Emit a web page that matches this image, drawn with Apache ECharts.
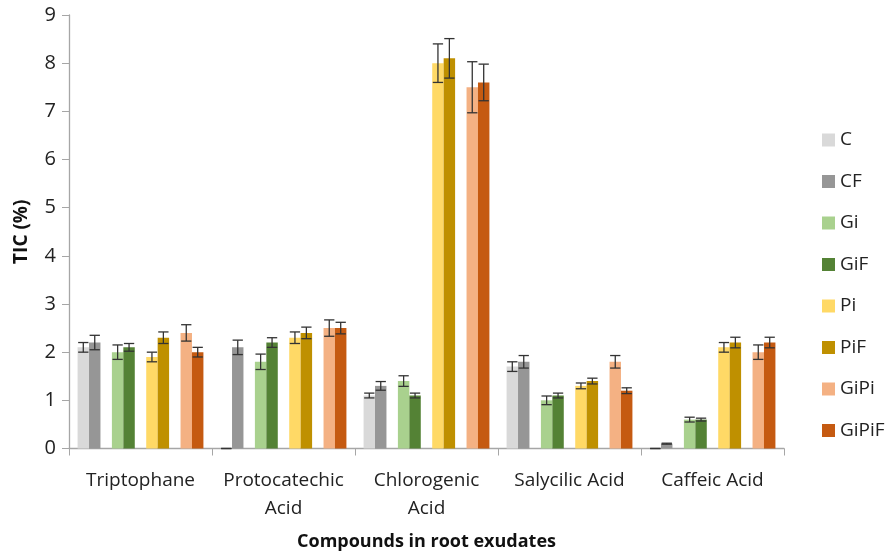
<!DOCTYPE html>
<html>
<head>
<meta charset="utf-8">
<script src="https://cdn.jsdelivr.net/npm/echarts@6/dist/echarts.min.js"></script>
<style>
  html, body { margin: 0; padding: 0; background: #fff; }
  #chart { width: 892px; height: 553px; }
</style>
</head>
<body>
<div id="chart"></div>
<script>
// Compounds measured in root exudates
const categories = ['Triptophane', 'Protocatechic\nAcid', 'Chlorogenic\nAcid', 'Salycilic Acid', 'Caffeic Acid'];

// Treatment names, in drawing order
const treatments = ['C', 'CF', 'Gi', 'GiF', 'Pi', 'PiF', 'GiPi', 'GiPiF'];

// Mean TIC (%) per treatment, one value per compound
const valC     = [2.1, 0.0, 1.1, 1.7, 0.0];
const valCF    = [2.2, 2.1, 1.3, 1.8, 0.1];
const valGi    = [2.0, 1.8, 1.4, 1.0, 0.6];
const valGiF   = [2.1, 2.2, 1.1, 1.1, 0.6];
const valPi    = [1.9, 2.3, 8.0, 1.3, 2.1];
const valPiF   = [2.3, 2.4, 8.1, 1.4, 2.2];
const valGiPi  = [2.4, 2.5, 7.5, 1.8, 2.0];
const valGiPiF = [2.0, 2.5, 7.6, 1.2, 2.2];

// Standard error per treatment, one value per compound
const errC     = [0.10, 0.00, 0.05, 0.10, 0.00];
const errCF    = [0.15, 0.15, 0.09, 0.13, 0.01];
const errGi    = [0.15, 0.16, 0.11, 0.09, 0.05];
const errGiF   = [0.08, 0.10, 0.05, 0.05, 0.03];
const errPi    = [0.10, 0.12, 0.40, 0.06, 0.10];
const errPiF   = [0.12, 0.12, 0.41, 0.06, 0.11];
const errGiPi  = [0.17, 0.17, 0.53, 0.13, 0.15];
const errGiPiF = [0.10, 0.12, 0.38, 0.06, 0.11];

// Y axis ticks
const yTicks = [0, 1, 2, 3, 4, 5, 6, 7, 8, 9];

const values = [valC, valCF, valGi, valGiF, valPi, valPiF, valGiPi, valGiPiF];
const errors = [errC, errCF, errGi, errGiF, errPi, errPiF, errGiPi, errGiPiF];
const colors = ['#d9d9d9', '#969696', '#a9d18e', '#548235', '#ffd966', '#bf9000', '#f4b183', '#c55a11'];

// Bars are laid out in 11 slots per category: pairs separated by an empty slot
const slotIndex = [0, 1, 3, 4, 6, 7, 9, 10];
const SLOTS = 11;
const CAT_GAP = 0.12;

const FONT = '"Open Sans", "Noto Sans", sans-serif';

const series = [];
let slot = 0;
treatments.forEach((name, i) => {
  while (slot < slotIndex[i]) {
    series.push({ type: 'bar', data: categories.map(() => null), silent: true, barGap: 0, barCategoryGap: '12%' });
    slot++;
  }
  series.push({
    name: name,
    type: 'bar',
    data: values[i],
    barGap: 0,
    barCategoryGap: '12%',
    itemStyle: { color: colors[i] }
  });
  slot++;
});

// Error bars, centred on each bar's slot
treatments.forEach((name, i) => {
  series.push({
    type: 'custom',
    z: 5,
    silent: true,
    data: values[i].map((v, k) => [k, v, errors[i][k]]),
    encode: { x: 0, y: 1 },
    renderItem: function (params, api) {
      const k = api.value(0), v = api.value(1), e = api.value(2);
      const band = api.size([1, 0])[0];
      const slotW = band * (1 - CAT_GAP) / SLOTS;
      const center = api.coord([k, 0])[0];
      const x = center - band * (1 - CAT_GAP) / 2 + (slotIndex[i] + 0.5) * slotW;
      const yHi = api.coord([k, v + e])[1];
      const yLo = api.coord([k, v - e])[1];
      const cap = slotW * 0.45;
      const style = { stroke: '#333', lineWidth: 1.3 };
      return {
        type: 'group',
        children: [
          { type: 'line', shape: { x1: x, y1: yHi, x2: x, y2: yLo }, style: style },
          { type: 'line', shape: { x1: x - cap, y1: yHi, x2: x + cap, y2: yHi }, style: style },
          { type: 'line', shape: { x1: x - cap, y1: yLo, x2: x + cap, y2: yLo }, style: style }
        ]
      };
    }
  });
});

const chart = echarts.init(document.getElementById('chart'), null, { renderer: 'canvas' });
chart.setOption({
  backgroundColor: '#ffffff',
  animation: false,
  textStyle: { fontFamily: FONT },
  grid: { left: 69, right: 108, top: 15, bottom: 104.5, outerBoundsMode: 'none', containLabel: false },
  legend: {
    data: treatments,
    orient: 'vertical',
    left: 822,
    top: 129,
    padding: 0,
    itemWidth: 13,
    itemHeight: 13,
    itemGap: 19.5,
    itemStyle: { borderWidth: 0 },
    icon: 'rect',
    textStyle: { fontFamily: FONT, fontSize: 19, color: '#222', lineHeight: 22 }
  },
  xAxis: {
    type: 'category',
    data: categories,
    name: 'Compounds in root exudates',
    nameLocation: 'middle',
    nameGap: 84,
    nameTextStyle: { fontFamily: FONT, fontSize: 18, fontWeight: 'bold', color: '#111' },
    axisLine: { lineStyle: { color: '#a6a6a6', width: 1.3 } },
    axisTick: { show: true, length: 7, lineStyle: { color: '#a6a6a6' } },
    axisLabel: { interval: 0, hideOverlap: false, fontFamily: FONT, fontSize: 19, color: '#222', margin: 18, lineHeight: 28 }
  },
  yAxis: {
    type: 'value',
    min: yTicks[0],
    max: yTicks[yTicks.length - 1],
    interval: 1,
    name: 'TIC (%)',
    nameLocation: 'middle',
    nameGap: 38,
    nameTextStyle: { fontFamily: FONT, fontSize: 19, fontWeight: 'bold', color: '#111' },
    axisLine: { show: true, lineStyle: { color: '#a6a6a6', width: 1.3 } },
    axisTick: { show: true, length: 7, lineStyle: { color: '#a6a6a6' } },
    splitLine: { show: false },
    axisLabel: { fontFamily: FONT, fontSize: 20, color: '#222', margin: 13 }
  },
  series: series
});
</script>
</body>
</html>
